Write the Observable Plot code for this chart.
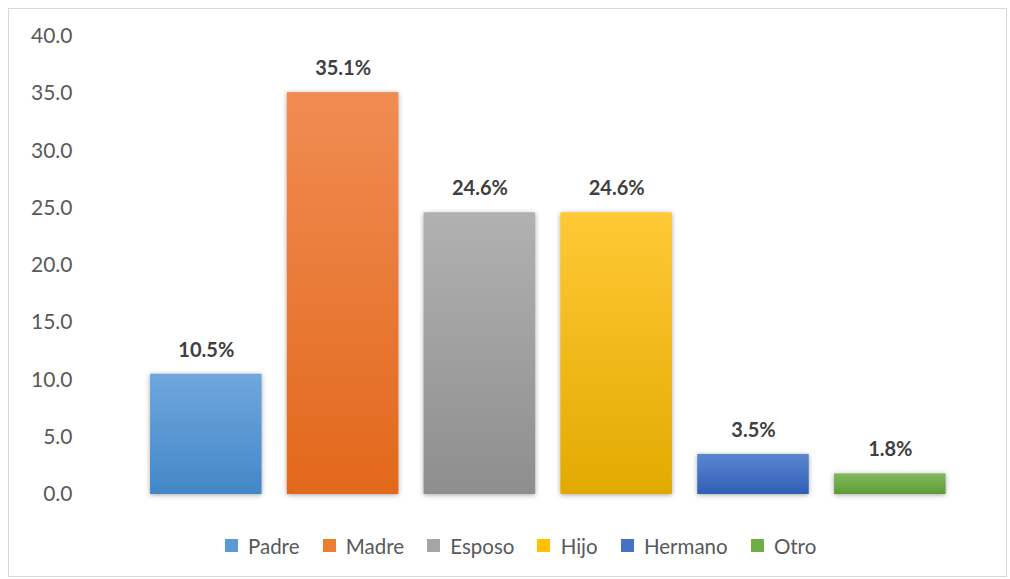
<!DOCTYPE html>
<html>
<head>
<meta charset="utf-8">
<script src="https://cdn.jsdelivr.net/npm/d3@7"></script>
<script src="https://cdn.jsdelivr.net/npm/@observablehq/plot@0.6"></script>
<style>
  html, body { margin: 0; padding: 0; background: #fff; }
  body { width: 1010px; height: 579px; position: relative; overflow: hidden; font-family: Lato, "Open Sans", sans-serif; }
  #frame { position: absolute; left: 8px; top: 8px; width: 997px; height: 567px; border: 1.5px solid #d9d9d9; }
  #chart { position: absolute; left: 0; top: 0; }
  #legend { position: absolute; left: 12px; top: 529px; width: 1040px; display: flex; justify-content: center; }
  .leg-swatch { margin-right: 23px !important; color: #595959; font-size: 20.5px; }
  .leg-swatches { font-family: Lato, sans-serif !important; }
</style>
</head>
<body>
<div id="frame"></div>
<div id="chart"></div>
<div id="legend"></div>
<script>
const categories = ["Padre", "Madre", "Esposo", "Hijo", "Hermano", "Otro"];
const values = [10.5, 35.1, 24.6, 24.6, 3.5, 1.8];
const yTicks = [0, 5, 10, 15, 20, 25, 30, 35, 40];
const baseColors = ["#5b9bd5", "#ed7d31", "#a5a5a5", "#ffc000", "#4472c4", "#70ad47"];
const topColors = ["#6fa7dd", "#f08c52", "#b1b1b1", "#ffc935", "#5b86d0", "#82b95c"];
const bottomColors = ["#4387c8", "#e2681b", "#8e8e8e", "#e2aa00", "#2f5fb5", "#5d9b35"];

const data = categories.map((c, i) => ({category: c, value: values[i], idx: i}));

const plot = Plot.plot({
  width: 1010,
  height: 520,
  marginTop: 36,
  marginBottom: 26,
  marginLeft: 80,
  marginRight: 20,
  style: {fontFamily: "Lato, 'Open Sans', sans-serif", background: "transparent", overflow: "visible"},
  x: {domain: categories, range: [137.4, 958.2], paddingInner: 0.185, paddingOuter: 0.0925, round: false, axis: null},
  y: {domain: [0, 40], range: [494, 36], axis: null},
  color: {type: "identity"},
  marks: [
    Plot.axisY({ticks: yTicks, tickFormat: d3.format(".1f"), tickSize: 0, tickPadding: 8, fontSize: 21, color: "#595959", label: null}),
    Plot.barY(data, {x: "category", y: "value", fill: d => `url(#grad${d.idx})`}),
    Plot.text(data, {x: "category", y: "value", text: d => d.value.toFixed(1) + "%", dy: -24, fontSize: 20, fontWeight: "bold", fill: "#404040"})
  ]
});

const svg = d3.select(plot);
const defs = svg.insert("defs", ":first-child");
categories.forEach((c, i) => {
  const g = defs.append("linearGradient").attr("id", "grad" + i).attr("x1", 0).attr("y1", 0).attr("x2", 0).attr("y2", 1);
  g.append("stop").attr("offset", "0%").attr("stop-color", topColors[i]);
  g.append("stop").attr("offset", "100%").attr("stop-color", bottomColors[i]);
});
svg.selectAll("g[aria-label='bar'] rect").style("filter", "drop-shadow(0px 1.5px 2.5px rgba(0,0,0,0.35))");
document.getElementById("chart").appendChild(plot);

const legend = Plot.legend({
  color: {type: "ordinal", domain: categories, range: baseColors},
  swatchSize: 13,
  className: "leg",
  style: {fontSize: "20.5px", color: "#595959", fontFamily: "Lato, sans-serif"}
});
document.getElementById("legend").appendChild(legend);
</script>
</body>
</html>
